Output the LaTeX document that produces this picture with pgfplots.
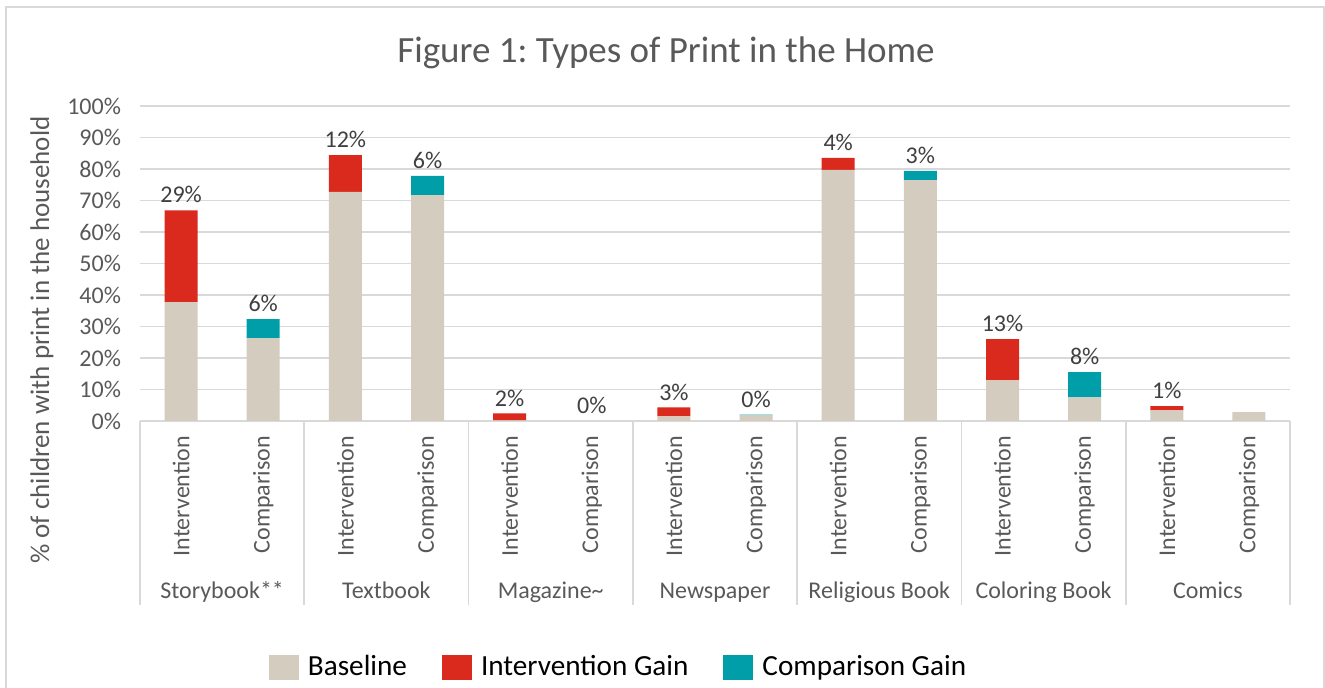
\documentclass[border=0pt]{standalone}
\usepackage{pgfplots}
\pgfplotsset{compat=1.18}
\usepackage{pgfplotstable}
\usepackage{fontspec}
\setmainfont{Carlito}
\frenchspacing
\definecolor{basec}{RGB}{211,204,191}
\definecolor{igainc}{RGB}{218,41,29}
\definecolor{cgainc}{RGB}{0,158,168}
\definecolor{gridc}{RGB}{217,217,217}
\definecolor{txt}{RGB}{89,89,89}
\definecolor{lbl}{RGB}{64,64,64}

% stacked components
\pgfplotstableread{
x base igain cgain
0 37.7 29.2 0
1 26.3 0 6.0
2 72.7 11.7 0
3 71.7 0 6.1
4 0.2 2.2 0
5 0 0 0
6 1.5 2.8 0
7 1.8 0 0.2
8 79.7 3.8 0
9 76.5 0 2.9
10 12.9 13.1 0
11 7.5 0 8.0
12 3.4 1.3 0
13 2.8 0 0
}\data

% bar tops and gain labels
\pgfplotstableread{
x top lab
0 66.9 29
1 32.3 6
2 84.4 12
3 77.8 6
4 2.4 2
5 0 0
6 4.3 3
7 2.0 0
8 83.5 4
9 79.4 3
10 26.0 13
11 15.5 8
12 4.7 1
}\labels

\pgfplotsset{
  sqlegend/.style={legend image code/.code={\fill[##1] (0pt,-6.25pt) rectangle (15pt,6.25pt); \path (17.5pt,0pt);}},
  common/.style={at={(70pt,133.5pt)}, anchor=south west,
    scale only axis, width=575pt, height=157.5pt,
    xmin=-0.5, xmax=13.5, ymin=0, ymax=100, clip=false},
}

\begin{document}
\begin{tikzpicture}[x=1pt,y=1pt]
\useasboundingbox (0,0) rectangle (662.5,344);
\draw[gridc, line width=0.8pt] (3,-5) -- (3,340.5) -- (662,340.5) -- (662,-5);
\node[text=txt, font=\fontsize{18.5}{22}\selectfont] at (333,317.5) {Figure 1: Types of Print in the Home};
\node[text=txt, rotate=90, font=\fontsize{13.5}{16}\selectfont] at (21,174) {\% of children with print in the household};
\begin{axis}[
  common,
  ybar stacked, bar width=16.5pt,
  axis line style={draw=none},
  tick style={draw=none},
  ymajorgrids, grid style={gridc, line width=0.8pt},
  xtick={0,...,13},
  xticklabels={Intervention,Comparison,Intervention,Comparison,Intervention,Comparison,Intervention,Comparison,Intervention,Comparison,Intervention,Comparison,Intervention,Comparison},
  xticklabel style={yshift=-4pt, rotate=90, anchor=east, text=txt, font=\fontsize{12}{14}\selectfont},
  ytick={0,10,...,100},
  yticklabel={\pgfmathprintnumber{\tick}\%},
  yticklabel style={xshift=-6pt, text=txt, font=\fontsize{12}{14}\selectfont},
  /pgf/number format/assume math mode=true,
  legend style={at={(0.417,-0.782)}, anchor=center, draw=none, legend columns=-1,
    font=\fontsize{14.6}{17}\selectfont, text=black,
    /tikz/every even column/.append style={column sep=15.5pt}},
  sqlegend,
]
\addplot[fill=basec, draw=none] table[x=x, y=base] {\data};
\addplot[fill=igainc, draw=none] table[x=x, y=igain] {\data};
\addplot[fill=cgainc, draw=none] table[x=x, y=cgain] {\data};
\legend{Baseline, Intervention Gain, Comparison Gain}
\pgfplotsinvokeforeach{-0.5,1.5,3.5,5.5,7.5,9.5,11.5,13.5}{
  \draw[gridc, line width=0.8pt] (axis cs:#1,0) -- ([yshift=-92pt]axis cs:#1,0);
}
\node[text=txt, font=\fontsize{12}{14}\selectfont, anchor=base] at ([yshift=-89pt]axis cs:0.5,0) {Storybook**};
\node[text=txt, font=\fontsize{12}{14}\selectfont, anchor=base] at ([yshift=-89pt]axis cs:2.5,0) {Textbook};
\node[text=txt, font=\fontsize{12}{14}\selectfont, anchor=base] at ([yshift=-89pt]axis cs:4.5,0) {Magazine\char`\~};
\node[text=txt, font=\fontsize{12}{14}\selectfont, anchor=base] at ([yshift=-89pt]axis cs:6.5,0) {Newspaper};
\node[text=txt, font=\fontsize{12}{14}\selectfont, anchor=base] at ([yshift=-89pt]axis cs:8.5,0) {Religious Book};
\node[text=txt, font=\fontsize{12}{14}\selectfont, anchor=base] at ([yshift=-89pt]axis cs:10.5,0) {Coloring Book};
\node[text=txt, font=\fontsize{12}{14}\selectfont, anchor=base] at ([yshift=-89pt]axis cs:12.5,0) {Comics};
\end{axis}
\begin{axis}[common, hide axis]
\addplot[only marks, mark=none, point meta=explicit symbolic,
  nodes near coords={\pgfplotspointmeta\%},
  every node near coord/.append style={text=lbl, font=\fontsize{12}{14}\selectfont, anchor=south}]
  table[x=x, y=top, meta=lab] {\labels};
\end{axis}
\end{tikzpicture}
\end{document}
